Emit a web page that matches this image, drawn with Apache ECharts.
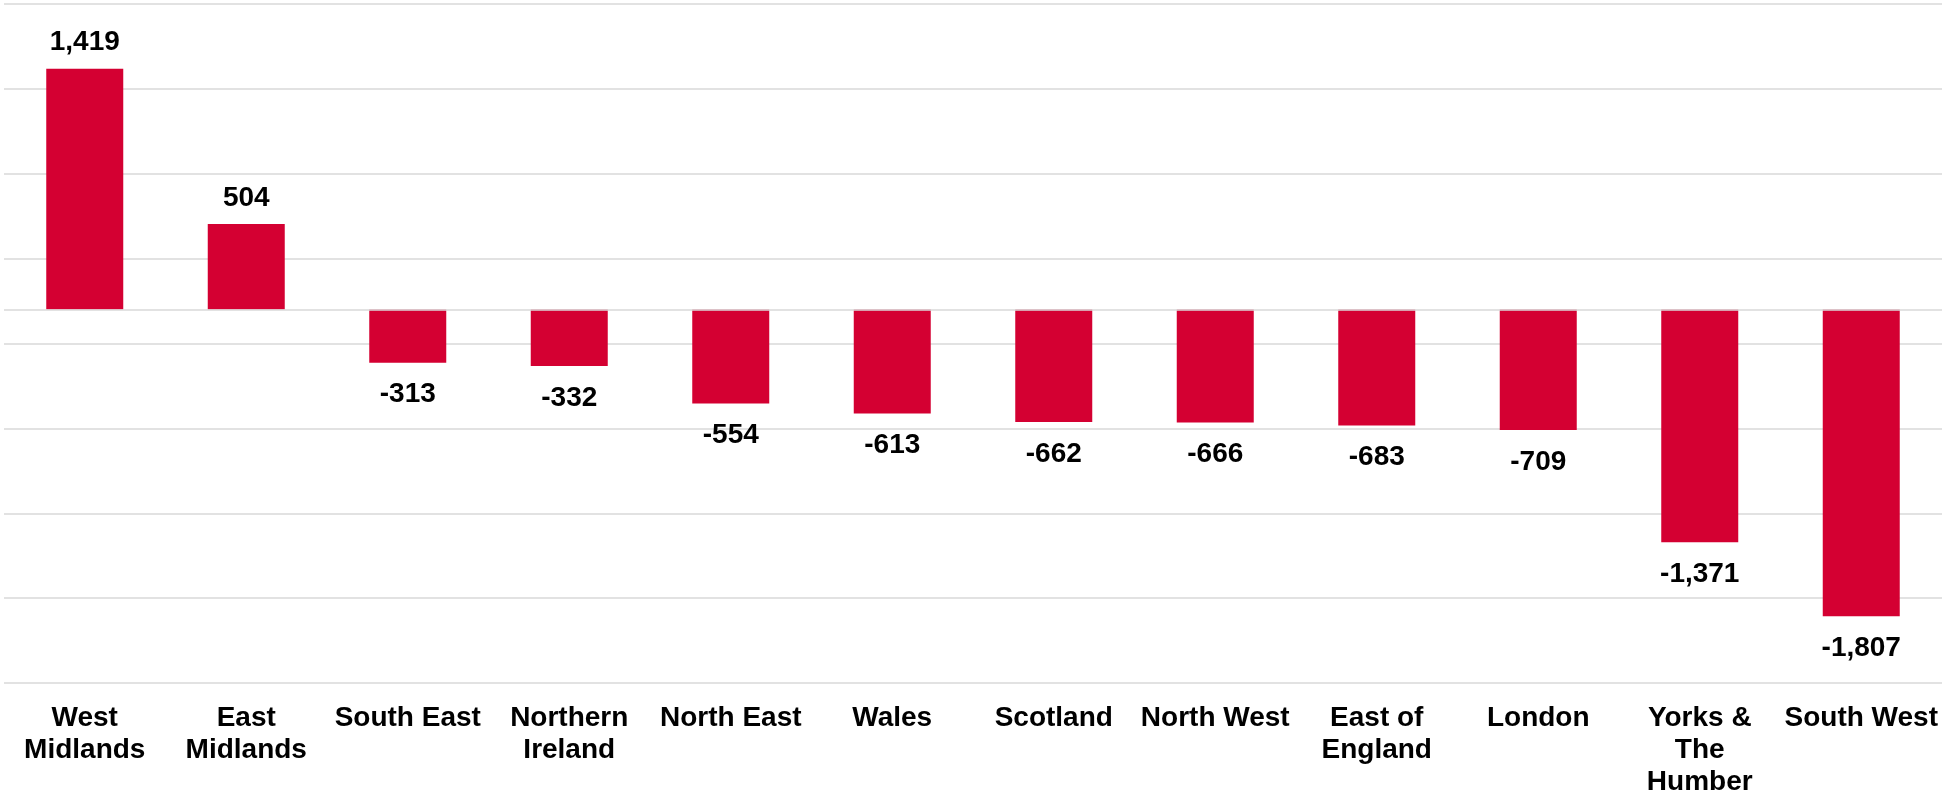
<!DOCTYPE html>
<html>
<head>
<meta charset="utf-8">
<script src="https://cdn.jsdelivr.net/npm/echarts@6/dist/echarts.min.js"></script>
<style>
  html, body { margin: 0; padding: 0; background: #ffffff; }
  #chart { width: 1942px; height: 794px; }
</style>
</head>
<body>
<div id="chart"></div>
<script>
// Net change by region
const regions = [
  'West\nMidlands', 'East\nMidlands', 'South East', 'Northern\nIreland',
  'North East', 'Wales', 'Scotland', 'North West', 'East of\nEngland',
  'London', 'Yorks &\nThe\nHumber', 'South West'
];
const netChange = [1419, 504, -313, -332, -554, -613, -662, -666, -683, -709, -1371, -1807];

// Value axis range and step
const axisMin = -2200;
const axisMax = 1800;
const axisStep = 500;

const barColor = '#D40032';
const gridColor = '#D9D9D9';
const textFont = '"Liberation Sans", Arial, sans-serif';

const fmt = v => v.toLocaleString('en-GB');

const chart = echarts.init(document.getElementById('chart'), null, { renderer: 'canvas' });

chart.setOption({
  animation: false,
  backgroundColor: '#ffffff',
  grid: {
    left: 4, right: 0, top: 4, bottom: 111,
    containLabel: false,
    outerBoundsMode: 'none'
  },
  xAxis: {
    type: 'category',
    data: regions,
    axisLine: { show: false, onZero: false },
    axisTick: { show: false },
    axisLabel: {
      interval: 0,
      margin: 19,
      color: '#000000',
      fontFamily: textFont,
      fontWeight: 'bold',
      fontSize: 28,
      lineHeight: 32,
      verticalAlign: 'top'
    }
  },
  yAxis: {
    type: 'value',
    min: axisMin,
    max: axisMax,
    interval: axisStep,
    axisLine: { show: false },
    axisTick: { show: false },
    axisLabel: { show: false },
    splitLine: { show: true, lineStyle: { color: gridColor, width: 1.5 } }
  },
  series: [{
    type: 'bar',
    barWidth: 77,
    data: netChange.map(v => ({
      value: v,
      label: {
        position: v >= 0 ? 'top' : 'bottom',
        distance: v >= 0 ? 12 : 18
      }
    })),
    itemStyle: { color: barColor },
    label: {
      show: true,
      color: '#000000',
      fontFamily: textFont,
      fontWeight: 'bold',
      fontSize: 28,
      formatter: p => fmt(p.value)
    },
    markLine: {
      silent: true,
      symbol: 'none',
      label: { show: false },
      lineStyle: { color: gridColor, width: 1.5, type: 'solid' },
      data: [{ yAxis: 0 }]
    }
  }]
});
</script>
</body>
</html>
